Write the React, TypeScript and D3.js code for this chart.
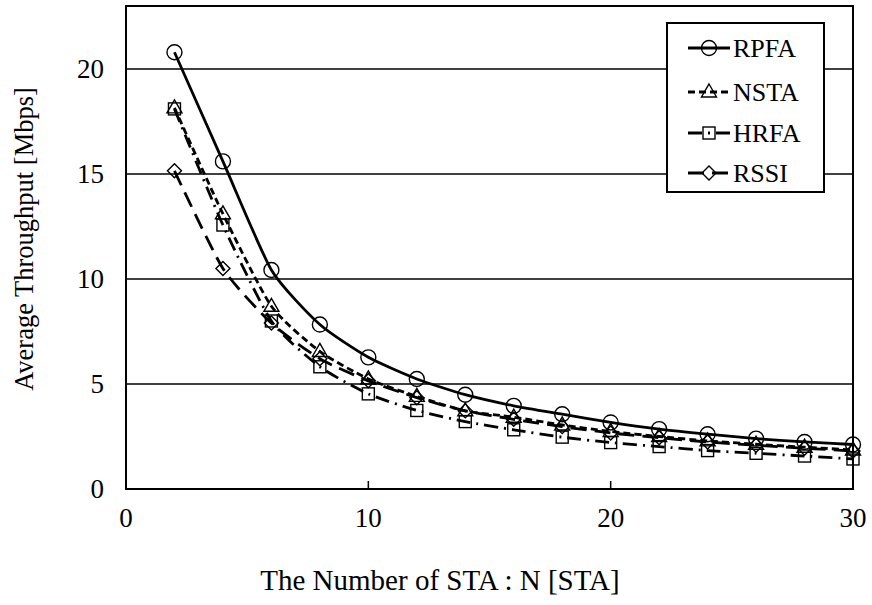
import React from "react";
import * as d3 from "d3";

const xValues = [2, 4, 6, 8, 10, 12, 14, 16, 18, 20, 22, 24, 26, 28, 30];
const rpfa = [20.8, 15.6, 10.43, 7.83, 6.27, 5.24, 4.49, 3.96, 3.56, 3.17, 2.85, 2.61, 2.4, 2.24, 2.12];
const nsta = [18.15, 13.1, 8.7, 6.55, 5.24, 4.41, 3.72, 3.42, 3.05, 2.74, 2.5, 2.29, 2.13, 1.99, 1.86];
const hrfa = [18.1, 12.57, 8.0, 5.82, 4.53, 3.74, 3.21, 2.82, 2.47, 2.21, 2.02, 1.83, 1.7, 1.57, 1.43];
const rssi = [15.15, 10.5, 7.9, 6.2, 5.15, 4.35, 3.72, 3.32, 2.97, 2.67, 2.44, 2.24, 2.08, 1.94, 1.81];
const seriesNames = ["RPFA", "NSTA", "HRFA", "RSSI"];
const xTicks = [0, 10, 20, 30];
const yTicks = [0, 5, 10, 15, 20];

const W = 872, H = 605;
const L = 126, R = 853, T = 6, B = 489;
const FONT = "Liberation Serif";

const dashes: Record<string, string | undefined> = {
  RPFA: undefined,
  NSTA: "7,4",
  HRFA: "14,6,2,6",
  RSSI: "16,8",
};

function Marker({ name, x, y }: { name: string; x: number; y: number }) {
  const s = { fill: "none", stroke: "#000", strokeWidth: 1.4 };
  if (name === "RPFA") return <circle cx={x} cy={y} r={7.5} {...s} />;
  if (name === "NSTA")
    return <path d={`M${x},${y - 8}L${x + 7.5},${y + 5}L${x - 7.5},${y + 5}Z`} {...s} />;
  if (name === "HRFA") return <rect x={x - 6} y={y - 6} width={12} height={12} {...s} />;
  return <path d={`M${x},${y - 7}L${x + 7},${y}L${x},${y + 7}L${x - 7},${y}Z`} {...s} />;
}

export default function App() {
  const x = d3.scaleLinear().domain([0, 30]).range([L, R]);
  const y = d3.scaleLinear().domain([0, 23]).range([B, T]);
  const data: Record<string, number[]> = { RPFA: rpfa, NSTA: nsta, HRFA: hrfa, RSSI: rssi };
  const line = d3
    .line<number>()
    .x((_, i) => x(xValues[i]))
    .y((d) => y(d))
    .curve(d3.curveCardinal.tension(0.4));

  const legX = 667, legY = 23, legW = 157, legH = 169;
  const rowYs = [48, 92, 133, 173];

  return (
    <svg width={W} height={H} style={{ position: "absolute", left: 0, top: 0, background: "#fff" }}>
      <rect x={0} y={0} width={W} height={H} fill="#fff" />
      {yTicks.filter((t) => t > 0).map((t) => (
        <line key={t} x1={L} x2={R} y1={y(t)} y2={y(t)} stroke="#000" strokeWidth={1.5} />
      ))}
      {xTicks.filter((t) => t > 0 && t < 30).map((t) => (
        <line key={t} x1={x(t)} x2={x(t)} y1={B} y2={B - 8} stroke="#000" strokeWidth={1.5} />
      ))}
      {seriesNames.map((n) => (
        <path key={n} d={line(data[n]) || ""} fill="none" stroke="#000" strokeWidth={2.8} strokeDasharray={dashes[n]} />
      ))}
      {seriesNames.map((n) =>
        data[n].map((v, i) => <Marker key={n + i} name={n} x={x(xValues[i])} y={y(v)} />)
      )}
      <rect x={L} y={T} width={R - L} height={B - T} fill="none" stroke="#000" strokeWidth={2} />
      {yTicks.map((t) => (
        <text key={t} x={104} y={y(t)} dy="0.35em" textAnchor="end" fontFamily={FONT} fontSize={27}>
          {t}
        </text>
      ))}
      {xTicks.map((t) => (
        <text key={t} x={x(t)} y={527} textAnchor="middle" fontFamily={FONT} fontSize={27}>
          {t}
        </text>
      ))}
      <text x={440} y={590} textAnchor="middle" fontFamily={FONT} fontSize={29}>
        The Number of STA : N [STA]
      </text>
      <text transform="translate(33,239) rotate(-90)" textAnchor="middle" fontFamily={FONT} fontSize={26.5}>
        Average Throughput [Mbps]
      </text>
      <rect x={legX} y={legY} width={legW} height={legH} fill="#fff" stroke="#000" strokeWidth={2} />
      {seriesNames.map((n, i) => (
        <g key={n}>
          <line x1={688} x2={730} y1={rowYs[i]} y2={rowYs[i]} stroke="#000" strokeWidth={2.8} strokeDasharray={dashes[n]} />
          <Marker name={n} x={709} y={rowYs[i]} />
          <text x={733} y={rowYs[i]} dy="0.35em" fontFamily={FONT} fontSize={26}>
            {n}
          </text>
        </g>
      ))}
    </svg>
  );
}
